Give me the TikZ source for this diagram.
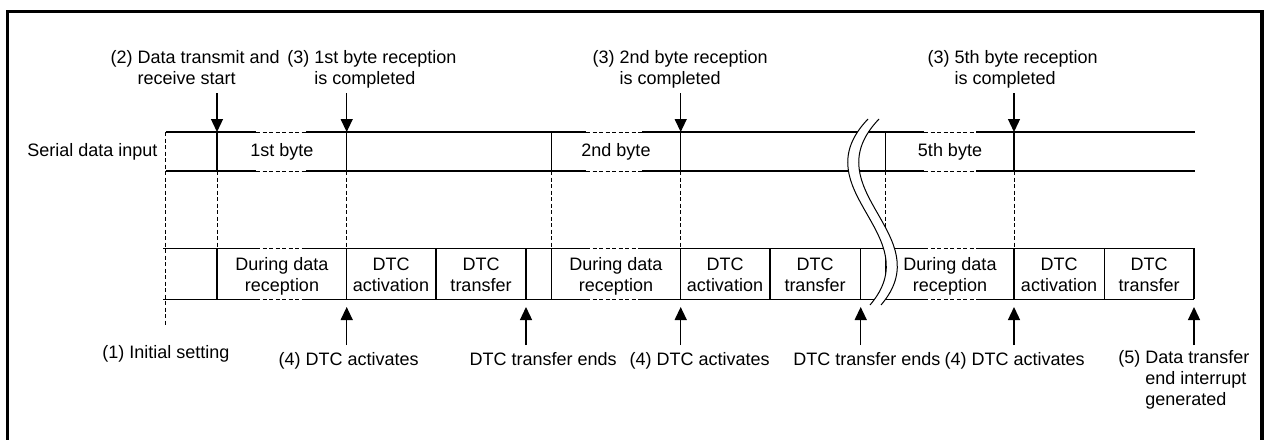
\documentclass[tikz,border=0pt]{standalone}
\usepackage{fontspec}
\setmainfont{Liberation Sans}
\usetikzlibrary{arrows.meta}
\begin{document}
\begin{tikzpicture}[x=1pt,y=-1pt,
  line width=1.2pt,
  lbl/.style={inner sep=0pt, font=\fontsize{18}{21}\selectfont},
  dsh/.style={dash pattern=on 4pt off 2.5pt, line width=1pt},
  arr/.style={-{Triangle[length=13pt,width=12pt]}, line width=1.3pt},
  frm/.style={line width=3.5pt}]
\useasboundingbox (0,0) rectangle (1268,439);
\clip (0,0) rectangle (1268,439);
\draw[frm] (7.5,460) -- (7.5,11.5) -- (1262,11.5) -- (1262,460);

% rows
\foreach \y in {132,171} {
  \draw (165.7,\y) -- (256,\y) (306,\y) -- (586,\y) (642,\y) -- (924,\y) (976,\y) -- (1195,\y);
  \draw[dsh] (256,\y) -- (306,\y) (586,\y) -- (642,\y) (924,\y) -- (976,\y);
}
\foreach \y in {248.3,299.3} {
  \draw (163,\y) -- (256,\y) (306,\y) -- (586,\y) (642,\y) -- (924,\y) (976,\y) -- (1194,\y);
  \draw[dsh] (256,\y) -- (306,\y) (586,\y) -- (642,\y) (924,\y) -- (976,\y);
}
% verticals
\draw[dsh] (165.7,132) -- (165.7,326);
\foreach \x in {217,346.7,551.7,680.7,885.7,1014} {
  \draw (\x,132) -- (\x,171);
  \draw[dsh] (\x,171) -- (\x,248.3);
  \draw (\x,248.3) -- (\x,299.3);
}
\foreach \x in {436,526,770,860.7,1104.3,1194} {
  \draw (\x,248.3) -- (\x,299.3);
}

% break mark
\fill[white] (868,119) .. controls (800,190) and (930,235) .. (870,305) -- (881,305) .. controls (941,235) and (811,190) .. (879,119) -- cycle;
\draw[line width=1pt] (868,119) .. controls (800,190) and (930,235) .. (870,305);
\draw[line width=1pt] (879,119) .. controls (811,190) and (941,235) .. (881,305);

% texts
\node[lbl,anchor=base west] (sdi) at (26.7,156.7) {Serial data input};
\node[lbl,anchor=base] (b1) at (282,156.7) {1st byte};
\node[lbl,anchor=base] (b2) at (616,156.7) {2nd byte};
\node[lbl,anchor=base] (b5) at (950,156.7) {5th byte};

\foreach \n/\x/\a/\b in {1/282/During data/reception, 2/391/DTC/activation, 3/481/DTC/transfer,
  4/616/During data/reception, 5/725/DTC/activation, 6/815/DTC/transfer,
  7/950/During data/reception, 8/1059/DTC/activation, 9/1149/DTC/transfer} {
  \node[lbl,anchor=base] (c\n a) at (\x,270) {\a};
  \node[lbl,anchor=base] (c\n b) at (\x,291) {\b};
}

\node[lbl,anchor=base west] (t2a) at (110,63) {(2) Data transmit and};
\node[lbl,anchor=base west] (t2b) at (110,84) {\phantom{(2) }receive start};
\node[lbl,anchor=base west] (t31a) at (286.7,63) {(3) 1st byte reception};
\node[lbl,anchor=base west] (t31b) at (286.7,84) {\phantom{(3) }is completed};
\node[lbl,anchor=base west] (t32a) at (592,63) {(3) 2nd byte reception};
\node[lbl,anchor=base west] (t32b) at (592,84) {\phantom{(3) }is completed};
\node[lbl,anchor=base west] (t35a) at (927,63) {(3) 5th byte reception};
\node[lbl,anchor=base west] (t35b) at (927,84) {\phantom{(3) }is completed};

\node[lbl,anchor=base west] (i1) at (101.7,358) {(1) Initial setting};
\node[lbl,anchor=base west] (a41) at (278,365.7) {(4) DTC activates};
\node[lbl,anchor=base west] (e1) at (469,365.7) {DTC transfer ends};
\node[lbl,anchor=base west] (a42) at (629,365.7) {(4) DTC activates};
\node[lbl,anchor=base west] (e2) at (792.7,365.7) {DTC transfer ends};
\node[lbl,anchor=base west] (a43) at (944,365.7) {(4) DTC activates};
\node[lbl,anchor=base west] (f5a) at (1117.7,363.5) {(5) Data transfer};
\node[lbl,anchor=base west] (f5b) at (1117.7,384.5) {\phantom{(5) }end interrupt};
\node[lbl,anchor=base west] (f5c) at (1117.7,405.5) {\phantom{(5) }generated};

% arrows
\foreach \n/\x in {1/217,2/346.7,3/680.7,4/1014} {
  \coordinate (ds\n) at (\x,93);
  \coordinate (de\n) at (\x,132);
  \draw[arr] (ds\n) -- (de\n);
}
\foreach \n/\x in {1/346.7,2/526,3/680.7,4/860.7,5/1014,6/1194} {
  \coordinate (us\n) at (\x,345);
  \coordinate (ue\n) at (\x,307);
  \draw[arr] (us\n) -- (ue\n);
}
\end{tikzpicture}
\end{document}
